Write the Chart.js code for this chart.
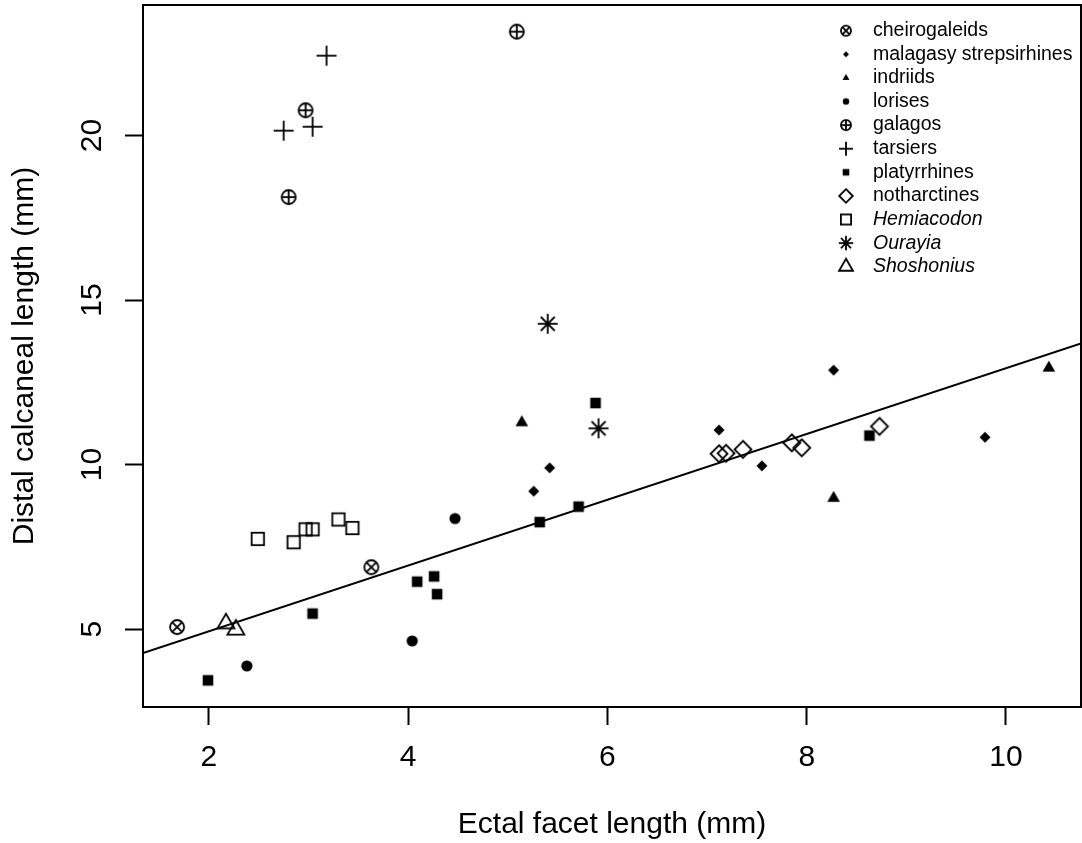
<!DOCTYPE html>
<html>
<head>
<meta charset="utf-8">
<title>Distal calcaneal length vs ectal facet length</title>
<script src="https://cdn.jsdelivr.net/npm/chart.js@4.4.1/dist/chart.umd.min.js"></script>
<style>
  html, body { margin: 0; padding: 0; background: #fff; }
  #plot { display: block; }
</style>
</head>
<body>
<canvas id="plot" width="1082" height="843"></canvas>
<script>
// groups, in legend order
const categories = ['cheirogaleids', 'malagasy strepsirhines', 'indriids', 'lorises', 'galagos',
    'tarsiers', 'platyrrhines', 'notharctines', 'Hemiacodon', 'Ourayia', 'Shoshonius'];
const italicCategories = ['Hemiacodon', 'Ourayia', 'Shoshonius'];

// x = ectal facet length (mm), y = distal calcaneal length (mm)
const cheirogaleidsX = [1.68, 3.63];
const cheirogaleidsY = [5.06, 6.88];
const malagasyX = [5.26, 5.42, 7.12, 7.55, 8.27, 9.79];
const malagasyY = [9.19, 9.90, 11.05, 9.96, 12.87, 10.83];
const indriidsX = [5.14, 8.27, 10.43];
const indriidsY = [11.28, 8.98, 12.94];
const lorisesX = [2.38, 4.04, 4.47];
const lorisesY = [3.88, 4.64, 8.36];
const galagosX = [2.80, 2.97, 5.09];
const galagosY = [18.13, 20.77, 23.16];
const tarsiersX = [2.75, 3.04, 3.18];
const tarsiersY = [20.15, 20.27, 22.43];
const platyrrhinesX = [1.99, 3.04, 4.09, 4.26, 4.29, 5.32, 5.71, 5.88, 8.63];
const platyrrhinesY = [3.44, 5.47, 6.44, 6.60, 6.06, 8.25, 8.72, 11.87, 10.88];
const notharctinesX = [7.12, 7.19, 7.36, 7.85, 7.95, 8.73];
const notharctinesY = [10.33, 10.34, 10.46, 10.66, 10.51, 11.16];
const hemiacodonX = [2.49, 2.85, 2.97, 3.04, 3.30, 3.44];
const hemiacodonY = [7.74, 7.64, 8.03, 8.03, 8.33, 8.07];
const ourayiaX = [5.40, 5.91];
const ourayiaY = [14.28, 11.10];
const shoshoniusX = [2.17, 2.27];
const shoshoniusY = [5.17, 4.98];

const xTicks = [2, 4, 6, 8, 10];
const yTicks = [5, 10, 15, 20];

// fitted line  y = a + b x
const fitIntercept = 2.93;
const fitSlope = 1.0;

const X_MIN = 1.338, X_MAX = 10.753;
const Y_MIN = 2.63, Y_MAX = 23.97;
const FONT = '"Liberation Sans", Arial, sans-serif';

// R-like plotting symbols drawn into small canvases, used as pointStyle
function makeSymbol(kind, scale) {
    const size = 2 * Math.ceil(13 * scale + 2);
    const c = document.createElement('canvas');
    c.width = c.height = size;
    const g = c.getContext('2d');
    g.translate(size / 2, size / 2);
    g.scale(scale, scale);
    g.lineWidth = 1.8 / scale;
    g.strokeStyle = g.fillStyle = '#000';
    const line = (x1, y1, x2, y2) => { g.beginPath(); g.moveTo(x1, y1); g.lineTo(x2, y2); g.stroke(); };
    const circle = (r, fill) => { g.beginPath(); g.arc(0, 0, r, 0, Math.PI * 2); fill ? g.fill() : g.stroke(); };
    const poly = (pts, fill) => {
        g.beginPath();
        pts.forEach((p, i) => i ? g.lineTo(p[0], p[1]) : g.moveTo(p[0], p[1]));
        g.closePath();
        fill ? g.fill() : g.stroke();
    };
    // triangle with R geometry (apex further from centre than base)
    const tri = (xc, fill) => {
        const r = 1.5551 * xc, h = 1.3468 * xc, yc = 0.7776 * xc;
        poly([[0, -r], [h, yc], [-h, yc]], fill);
    };
    switch (kind) {
        case 'circleX': circle(7); line(-4.95, -4.95, 4.95, 4.95); line(-4.95, 4.95, 4.95, -4.95); break;
        case 'diamondSmall': poly([[0, -5.5], [5.5, 0], [0, 5.5], [-5.5, 0]], true); break;
        case 'triFilled': tri(4.7, true); break;
        case 'dot': circle(5.6, true); break;
        case 'circlePlus': circle(7); line(-7, 0, 7, 0); line(0, -7, 0, 7); break;
        case 'plus': line(-10, 0, 10, 0); line(0, -10, 0, 10); break;
        case 'squareFilled': g.fillRect(-5.3, -5.3, 10.6, 10.6); break;
        case 'diamond': poly([[0, -8.5], [8.5, 0], [0, 8.5], [-8.5, 0]]); break;
        case 'square': g.strokeRect(-6.2, -6.2, 12.4, 12.4); break;
        case 'asterisk': line(-10, 0, 10, 0); line(0, -10, 0, 10); line(-7, -7, 7, 7); line(-7, 7, 7, -7); break;
        case 'triangle': tri(6.3); break;
    }
    return c;
}

const groups = [
    [cheirogaleidsX, cheirogaleidsY, 'circleX', 0.72],
    [malagasyX, malagasyY, 'diamondSmall', 0.55],
    [indriidsX, indriidsY, 'triFilled', 0.55],
    [lorisesX, lorisesY, 'dot', 0.58],
    [galagosX, galagosY, 'circlePlus', 0.72],
    [tarsiersX, tarsiersY, 'plus', 0.7],
    [platyrrhinesX, platyrrhinesY, 'squareFilled', 0.62],
    [notharctinesX, notharctinesY, 'diamond', 0.8],
    [hemiacodonX, hemiacodonY, 'square', 0.82],
    [ourayiaX, ourayiaY, 'asterisk', 0.72],
    [shoshoniusX, shoshoniusY, 'triangle', 0.82]
];

const legendSymbols = [];
const datasets = groups.map((gr, k) => {
    legendSymbols.push(makeSymbol(gr[2], gr[3]));
    return {
        label: categories[k],
        data: gr[0].map((x, i) => ({x: x, y: gr[1][i]})),
        pointStyle: makeSymbol(gr[2], 1),
        pointRadius: 6,
        borderWidth: 0
    };
});

datasets.push({
    type: 'line',
    label: 'fit',
    data: [X_MIN, X_MAX].map(x => ({x: x, y: fitIntercept + fitSlope * x})),
    showLine: true,
    pointRadius: 0,
    borderColor: '#000',
    borderWidth: 2,
    order: 20
});

const boxPlugin = {
    id: 'plotBox',
    afterDatasetsDraw(chart) {
        const {ctx, chartArea: a} = chart;
        ctx.save();
        ctx.lineWidth = 2;
        ctx.strokeStyle = '#000';
        ctx.strokeRect(a.left, a.top, a.right - a.left, a.bottom - a.top);
        ctx.restore();
    }
};

// legend in the top right corner, no frame (like R's bty = "n")
const legendPlugin = {
    id: 'rLegend',
    afterDraw(chart) {
        const {ctx, chartArea: a} = chart;
        ctx.save();
        ctx.fillStyle = '#000';
        ctx.textBaseline = 'middle';
        legendSymbols.forEach((img, i) => {
            const y = a.top + 25.7 + i * 23.6;
            ctx.drawImage(img, a.right - 235 - img.width / 2, y - img.height / 2);
            const lab = categories[i];
            ctx.font = (italicCategories.includes(lab) ? 'italic ' : '') + '19.5px ' + FONT;
            ctx.fillText(lab, a.right - 208, y);
        });
        ctx.restore();
    }
};

const axisFont = {family: FONT, size: 30};

new Chart(document.getElementById('plot').getContext('2d'), {
    type: 'scatter',
    data: {datasets: datasets},
    options: {
        responsive: false,
        animation: false,
        layout: {autoPadding: false, padding: {top: 5, right: 1, left: 0, bottom: 0}},
        plugins: {
            legend: {display: false},
            tooltip: {enabled: false}
        },
        scales: {
            x: {
                type: 'linear',
                bounds: 'data',
                min: X_MIN,
                max: X_MAX,
                afterBuildTicks: s => { s.ticks = xTicks.map(v => ({value: v})); },
                afterFit: s => { s.height = 136; s.paddingLeft = 0; s.paddingRight = 0; },
                border: {display: false},
                grid: {drawOnChartArea: false, tickLength: 18, tickWidth: 2, tickColor: '#000'},
                ticks: {color: '#000', font: axisFont, padding: 15, maxRotation: 0},
                title: {display: true, text: 'Ectal facet length (mm)', color: '#000', font: axisFont,
                    padding: {top: 0, bottom: 0}}
            },
            y: {
                type: 'linear',
                bounds: 'data',
                min: Y_MIN,
                max: Y_MAX,
                afterBuildTicks: s => { s.ticks = yTicks.map(v => ({value: v})); },
                afterFit: s => { s.width = 143; s.paddingTop = 0; s.paddingBottom = 0; },
                border: {display: false},
                grid: {drawOnChartArea: false, tickLength: 18, tickWidth: 2, tickColor: '#000'},
                ticks: {color: '#000', font: axisFont, padding: 16, minRotation: 90, maxRotation: 90,
                    crossAlign: 'center'},
                title: {display: true, text: 'Distal calcaneal length (mm)', color: '#000', font: axisFont,
                    padding: {top: 7, bottom: 0}}
            }
        }
    },
    plugins: [boxPlugin, legendPlugin]
});
</script>
</body>
</html>
